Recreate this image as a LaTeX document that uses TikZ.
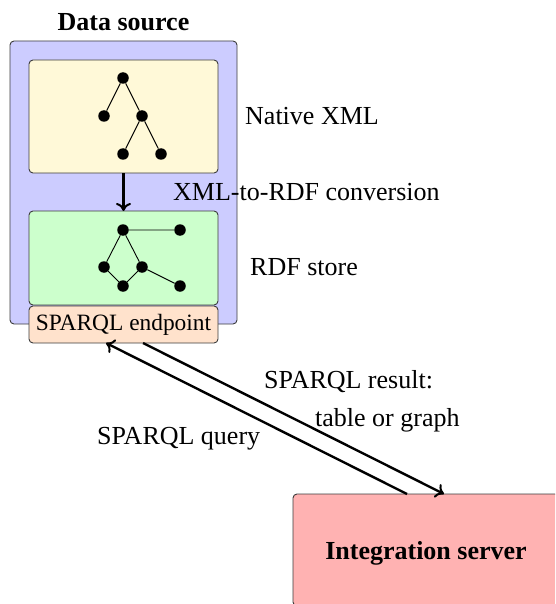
\documentclass[tikz,border=0pt]{standalone}
\usepackage{fontspec}
\setmainfont{Liberation Serif}
\usetikzlibrary{arrows.meta,calc}
\definecolor{srcblue}{RGB}{204,204,255}
\definecolor{xmlyellow}{RGB}{255,249,216}
\definecolor{rdfgreen}{RGB}{204,255,204}
\definecolor{eppeach}{RGB}{255,226,204}
\definecolor{srvred}{RGB}{255,178,178}
\definecolor{edgegray}{RGB}{60,60,60}
\tikzset{
  box/.style={draw=edgegray, line width=0.9pt, rounded corners=4pt,
    inner sep=0pt, outer sep=0pt},
  dot/.style={circle, fill=black, inner sep=0pt, minimum size=11.5pt},
  tedge/.style={line width=0.9pt},
  flow/.style={line width=2.4pt, -{To[length=8pt,width=15pt,line width=2pt]}},
  txt/.style={inner sep=0pt, font=\fontsize{26}{30}\selectfont},
}
\begin{document}
\begin{tikzpicture}[x=1pt,y=-1pt]
  \useasboundingbox (0,0) rectangle (555,604);
  \clip (0,0) rectangle (555,604);

  % data source container
  \node[txt, font=\fontsize{26}{30}\selectfont\bfseries, anchor=base] (title) at (123.5,31) {Data source};
  \node[box, fill=srcblue, minimum width=227pt, minimum height=283pt] (src) at (123.5,182.5) {};

  % native XML store with its tree
  \node[box, fill=xmlyellow, minimum width=189pt, minimum height=113pt] (xml) at (123.5,116.5) {};
  \node[dot] (x1) at (123,78) {};
  \node[dot] (x2) at (104,116) {};
  \node[dot] (x3) at (142,116) {};
  \node[dot] (x4) at (123,154) {};
  \node[dot] (x5) at (161,154) {};
  \draw[tedge] (x1) -- (x2) (x1) -- (x3) (x3) -- (x4) (x3) -- (x5);

  % RDF store with its graph
  \node[box, fill=rdfgreen, minimum width=189pt, minimum height=94pt] (rdf) at (123.5,258) {};
  \node[dot] (r1) at (123,230) {};
  \node[dot] (r2) at (180,230) {};
  \node[dot] (r3) at (104,267) {};
  \node[dot] (r4) at (142,267) {};
  \node[dot] (r5) at (123,286) {};
  \node[dot] (r6) at (180,286) {};
  \draw[tedge] (r1) -- (r2) (r1) -- (r3) (r1) -- (r4)
    (r3) -- (r5) (r4) -- (r5) (r4) -- (r6);

  % conversion step
  \draw[flow] (xml.south) -- (rdf.north);

  % endpoint
  \node[box, fill=eppeach, minimum width=189pt, minimum height=37pt,
    font=\fontsize{23.4}{27}\selectfont] (ep) at (123.5,324.5) {SPARQL endpoint};

  % integration server, running past the page edge
  \node[box, fill=srvred, minimum width=266pt, minimum height=112pt, text depth=0pt,
    font=\fontsize{26}{30}\selectfont\bfseries] (srv) at (426,550) {Integration server};

  % labels
  \node[txt, anchor=base west] (lxml) at (245,125) {Native XML};
  \node[txt, anchor=base west] (lconv) at (173,200) {XML-to-RDF conversion};
  \node[txt, anchor=base west] (lrdf) at (250,275) {RDF store};
  \node[txt, anchor=base west] (lres1) at (264,388) {SPARQL result:};
  \node[txt, anchor=base west] (lres2) at (315,426) {table or graph};
  \node[txt, anchor=base west] (lqry) at (97,444) {SPARQL query};

  % query and result flows
  \coordinate (qsrc) at ($(srv.north west)+(114,0)$);
  \coordinate (qdst) at ($(ep.south west)+(77,0)$);
  \coordinate (rsrc) at ($(ep.south west)+(114,0)$);
  \coordinate (rdst) at ($(srv.north west)+(151,0)$);
  \draw[flow] (qsrc) -- (qdst);
  \draw[flow] (rsrc) -- (rdst);
\end{tikzpicture}
\end{document}
